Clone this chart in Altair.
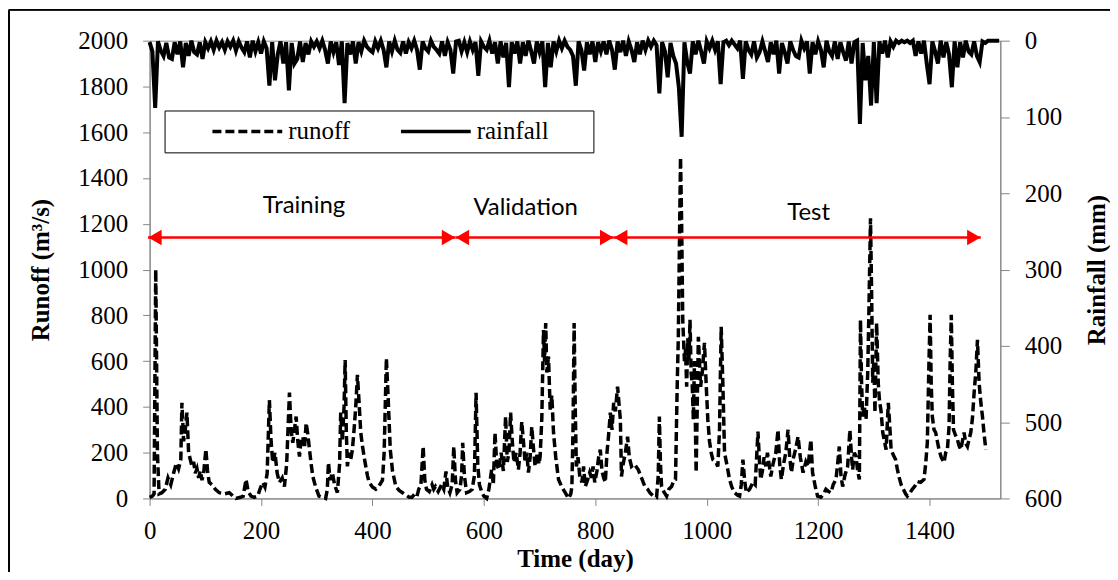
import altair as alt
import pandas as pd

# ---------------- data ----------------
runoff_day = [
    0, 5, 8, 11, 14, 17, 22, 28, 33, 38, 43, 48, 52, 56, 58,
    61, 64, 67, 70, 73, 76, 79, 82, 85, 88, 91, 94, 97, 101, 104,
    107, 112, 118, 125, 135, 143, 150, 155, 163, 168, 173, 177, 182, 188, 194,
    198, 203, 207, 211, 215, 218, 221, 225, 229, 233, 238, 242, 246, 251, 254,
    257, 260, 263, 266, 269, 272, 275, 278, 281, 284, 287, 290, 293, 298, 304,
    310, 316, 319, 321, 324, 328, 332, 337, 341, 343, 346, 349, 351, 353, 355,
    358, 361, 364, 367, 370, 373, 376, 379, 382, 385, 388, 391, 394, 400, 406,
    412, 418, 421, 425, 428, 432, 436, 442, 448, 454, 460, 466, 471, 476, 480,
    483, 487, 491, 494, 497, 502, 507, 510, 513, 518, 524, 528, 532, 535, 539,
    543, 546, 549, 552, 557, 560, 562, 565, 569, 574, 579, 583, 586, 589, 592,
    596, 600, 605, 609, 614, 617, 620, 623, 627, 631, 635, 639, 642, 645, 648,
    651, 654, 658, 662, 665, 668, 671, 674, 677, 680, 683, 686, 689, 692, 696,
    699, 701, 704, 707, 709, 711, 713, 716, 719, 722, 725, 729, 734, 740, 746,
    752, 756, 758, 760, 762, 764, 766, 769, 772, 776, 779, 782, 786, 790, 793,
    796, 799, 803, 806, 809, 812, 815, 818, 821, 824, 827, 830, 833, 836, 840,
    843, 845, 847, 850, 854, 858, 861, 865, 870, 877, 883, 889, 894, 898, 904,
    910, 913, 915, 917, 919, 923, 928, 932, 937, 941, 944, 947, 949, 951, 953,
    955, 957, 960, 962, 964, 966, 968, 970, 972, 974, 976, 978, 981, 983, 985,
    987, 989, 992, 996, 999, 1002, 1005, 1008, 1011, 1016, 1020, 1023, 1026, 1029, 1032,
    1036, 1041, 1045, 1050, 1055, 1059, 1062, 1065, 1068, 1071, 1077, 1083, 1087, 1092, 1095,
    1097, 1100, 1103, 1106, 1109, 1112, 1115, 1119, 1124, 1128, 1131, 1134, 1138, 1142, 1146,
    1149, 1152, 1156, 1160, 1164, 1168, 1173, 1178, 1182, 1187, 1190, 1195, 1199, 1205, 1210,
    1214, 1219, 1223, 1227, 1232, 1235, 1238, 1241, 1244, 1248, 1253, 1257, 1260, 1262, 1265,
    1268, 1271, 1274, 1276, 1278, 1280, 1283, 1286, 1289, 1291, 1294, 1296, 1298, 1300, 1302,
    1305, 1308, 1310, 1313, 1316, 1319, 1322, 1326, 1329, 1331, 1335, 1339, 1342, 1345, 1349,
    1353, 1357, 1360, 1365, 1369, 1374, 1378, 1384, 1390, 1393, 1396, 1399, 1401, 1403, 1405,
    1408, 1411, 1414, 1417, 1421, 1426, 1429, 1432, 1435, 1437, 1439, 1441, 1443, 1446, 1450,
    1453, 1456, 1459, 1462, 1465, 1468, 1471, 1474, 1477, 1480, 1483, 1486, 1489, 1492, 1495,
    1498, 1501,
]
runoff_val = [
    5, 10, 20, 1000, 200, 20, 25, 40, 90, 60, 110, 155, 130, 170, 418,
    250, 300, 375, 200, 170, 140, 160, 110, 130, 90, 120, 80, 110, 215, 120,
    70, 60, 40, 25, 20, 25, 10, 0, 5, 10, 83, 30, 10, 5, 10,
    40, 70, 50, 110, 430, 250, 157, 200, 110, 70, 90, 52, 150, 462, 300,
    243, 300, 358, 250, 183, 260, 270, 220, 330, 280, 213, 150, 96, 50, 10,
    5, 0, 40, 157, 80, 113, 60, 25, 150, 375, 250, 400, 605, 300, 140,
    200, 170, 213, 300, 400, 540, 420, 288, 230, 183, 140, 100, 70, 50, 40,
    55, 80, 200, 613, 450, 213, 120, 52, 35, 25, 15, 5, 5, 20, 10,
    40, 60, 227, 80, 40, 30, 60, 40, 52, 30, 60, 40, 118, 50, 25,
    60, 227, 80, 25, 40, 100, 243, 100, 25, 30, 40, 100, 462, 150, 60,
    30, 10, 0, 40, 126, 60, 288, 150, 126, 200, 120, 358, 160, 200, 375,
    250, 157, 200, 126, 200, 335, 250, 157, 200, 113, 180, 313, 220, 140, 200,
    150, 183, 350, 736, 600, 766, 550, 620, 388, 450, 288, 180, 83, 50, 25,
    0, 20, 52, 300, 766, 400, 140, 180, 100, 70, 140, 52, 80, 113, 90,
    140, 70, 120, 180, 213, 120, 90, 70, 200, 280, 375, 300, 418, 380, 488,
    400, 344, 96, 150, 200, 270, 180, 140, 150, 126, 90, 52, 40, 25, 10,
    5, 100, 358, 150, 52, 30, 10, 40, 52, 80, 83, 488, 700, 1100, 1490,
    1200, 780, 600, 650, 488, 700, 600, 780, 550, 500, 344, 600, 113, 400, 706,
    600, 488, 550, 680, 500, 344, 250, 200, 170, 160, 140, 300, 750, 500, 200,
    150, 83, 50, 25, 15, 10, 60, 170, 80, 25, 40, 70, 60, 292, 150,
    83, 120, 180, 140, 200, 150, 96, 150, 200, 300, 150, 83, 150, 200, 300,
    180, 113, 180, 220, 270, 180, 113, 160, 140, 257, 113, 50, 10, 5, 20,
    40, 30, 25, 60, 83, 150, 227, 100, 52, 100, 140, 300, 180, 126, 200,
    183, 120, 83, 780, 500, 358, 400, 344, 548, 800, 1224, 900, 505, 600, 375,
    766, 500, 431, 380, 288, 250, 213, 418, 300, 213, 190, 170, 130, 96, 60,
    40, 20, 10, 25, 40, 55, 74, 70, 83, 150, 243, 600, 802, 500, 358,
    300, 288, 250, 213, 180, 157, 200, 213, 313, 600, 802, 500, 300, 280, 257,
    230, 213, 250, 288, 240, 227, 260, 288, 350, 462, 550, 693, 505, 420, 358,
    280, 213,
]

# daily rainfall sampled every 5 days (day 0, 5, 10, ...)
rain_step = 5
rain_val = [
    2, 14, 88, 1, 13, 20, 3, 22, 24, 2, 18, 1, 35, 3, 20, 0, 15, 18, 2, 24,
    2, 10, 1, 12, 0, 9, 2, 12, 1, 8, 0, 13, 1, 9, 15, 1, 22, 0, 14, 2,
    17, 1, 10, 59, 2, 52, 18, 1, 30, 2, 65, 3, 30, 24, 1, 28, 3, 18, 1, 8,
    1, 10, 0, 12, 30, 1, 15, 2, 32, 1, 82, 3, 18, 1, 30, 2, 14, 0, 8, 12,
    15, 1, 10, 0, 12, 35, 1, 14, 0, 12, 16, 1, 17, 2, 10, 0, 12, 38, 1, 10,
    14, 0, 8, 12, 17, 1, 20, 2, 12, 43, 1, 0, 14, 2, 15, 1, 12, 2, 46, 1,
    8, 12, 0, 17, 2, 30, 1, 22, 3, 61, 2, 17, 1, 30, 2, 20, 0, 14, 30, 1,
    15, 1, 61, 3, 35, 1, 14, 0, 10, 0, 8, 12, 20, 59, 1, 12, 39, 2, 18, 1,
    28, 2, 14, 1, 18, 0, 12, 38, 1, 15, 0, 20, 1, 12, 28, 2, 18, 0, 12, 0,
    8, 0, 6, 69, 2, 14, 48, 3, 20, 30, 61, 126, 2, 28, 43, 1, 18, 0, 14, 30,
    1, 10, 0, 12, 1, 57, 2, 0, 6, 0, 5, 10, 0, 50, 1, 12, 18, 1, 22, 15,
    1, 14, 28, 2, 18, 0, 43, 3, 15, 30, 1, 12, 20, 22, 0, 10, 1, 43, 2, 18,
    1, 12, 35, 0, 14, 20, 1, 24, 2, 15, 26, 1, 30, 2, 0, 109, 3, 52, 20, 85,
    2, 82, 1, 17, 0, 22, 1, 8, 0, 3, 0, 2, 0, 3, 0, 20, 1, 17, 0, 30,
    57, 1, 14, 30, 0, 22, 2, 18, 61, 1, 35, 2, 22, 0, 14, 18, 1, 20, 28, 1,
    3, 0, 0, 0, 0, 0,
]

# period arrows and labels
period_names = ["Training", "Validation", "Test"]
period_start = [-3, 549, 833]
period_end = [549, 833, 1492]
arrow_level = [1140, 1140, 1140]
label_day = [277, 675, 1183]
label_level = [1277, 1268, 1246]

x_ticks = [0, 200, 400, 600, 800, 1000, 1200, 1400]
runoff_ticks = [0, 200, 400, 600, 800, 1000, 1200, 1400, 1600, 1800, 2000]
rain_ticks = [0, 100, 200, 300, 400, 500, 600]

assert len(runoff_day) == len(runoff_val)

runoff_df = pd.DataFrame({"day": runoff_day, "value": runoff_val, "series": "runoff"})
rain_df = pd.DataFrame({
    "day": [i * rain_step for i in range(len(rain_val))],
    "value": rain_val,
    "series": "rainfall",
})
period_df = pd.DataFrame({
    "name": period_names, "start": period_start, "end": period_end,
    "level": arrow_level, "lday": label_day, "llevel": label_level,
})

# ---------------- styling ----------------
SERIF = "Liberation Serif"
GRAY = "#868686"
FS = 25
BLANK = "\u2800"

xscale = alt.Scale(domain=[0, 1527], nice=False, zero=False)
yscale = alt.Scale(domain=[0, 2000], nice=False)
dash_scale = alt.Scale(domain=["runoff", "rainfall"], range=[[9, 4], [1, 0]])

x_axis = alt.Axis(
    values=x_ticks, title="Time (day)", grid=False, format="d",
    labelFont=SERIF, labelFontSize=FS, labelColor="black", labelPadding=13,
    labelFlush=False,
    titleFont=SERIF, titleFontSize=FS, titleFontWeight="bold", titleColor="black",
    titlePadding=3,
    domainColor=GRAY, tickColor=GRAY, tickSize=7,
)
y_axis = alt.Axis(
    orient="left", values=runoff_ticks, title="Runoff (m³/s)", grid=False, format="d",
    labelFont=SERIF, labelFontSize=FS, labelColor="black", labelPadding=15,
    titleFont=SERIF, titleFontSize=FS, titleFontWeight="bold", titleColor="black",
    titlePadding=24,
    domainColor=GRAY, tickColor=GRAY, tickSize=7,
)
rain_axis = alt.Axis(
    orient="right", values=rain_ticks, title="Rainfall (mm)", grid=False, format="d",
    labelFont=SERIF, labelFontSize=FS, labelColor="black", labelPadding=15,
    titleFont=SERIF, titleFontSize=FS, titleFontWeight="bold", titleColor="black",
    titlePadding=48, titleAngle=270,
    domainColor=GRAY, tickColor=GRAY, tickSize=9,
)

legend = alt.Legend(
    orient="none", legendX=15, legendY=70, direction="horizontal", title=None,
    symbolType="stroke", symbolSize=4900, symbolStrokeWidth=3.5,
    symbolStrokeColor="black", clipHeight=26,
    labelFont=SERIF, labelFontSize=FS, labelColor="black", labelOffset=4,
    strokeColor="black", fillColor="white", padding=8, columnPadding=10,
    symbolOffset=38,
    labelExpr="datum.label == 'rainfall' ? datum.label + '" + BLANK * 2 + "' : datum.label",
)

runoff_line = alt.Chart(runoff_df).mark_line(color="black", strokeWidth=3.5).encode(
    x=alt.X("day:Q", scale=xscale, axis=x_axis),
    y=alt.Y("value:Q", scale=yscale, axis=y_axis),
    strokeDash=alt.StrokeDash("series:N", scale=dash_scale, legend=legend),
    order="day:Q",
)

arrow_line = alt.Chart(period_df).mark_rule(color="#FF0000", strokeWidth=2.5).encode(
    x=alt.X("start:Q", scale=xscale, axis=x_axis),
    x2="end:Q",
    y=alt.Y("level:Q", scale=yscale, axis=y_axis),
)
head_right = alt.Chart(period_df).mark_point(
    shape="triangle-right", filled=True, color="#FF0000", size=240, opacity=1, xOffset=-7
).encode(
    x=alt.X("end:Q", scale=xscale, axis=x_axis),
    y=alt.Y("level:Q", scale=yscale, axis=y_axis),
)
head_left = alt.Chart(period_df).mark_point(
    shape="triangle-left", filled=True, color="#FF0000", size=240, opacity=1, xOffset=7
).encode(
    x=alt.X("start:Q", scale=xscale, axis=x_axis),
    y=alt.Y("level:Q", scale=yscale, axis=y_axis),
)
period_text = alt.Chart(period_df).mark_text(
    font="Lato", fontSize=24, color="black", baseline="middle", align="center"
).encode(
    x=alt.X("lday:Q", scale=xscale, axis=x_axis),
    y=alt.Y("llevel:Q", scale=yscale, axis=y_axis),
    text="name:N",
)

frame_left = alt.Chart(period_df).mark_rule(color="black", strokeWidth=1.5).encode(
    x=alt.value(-141), y=alt.value(-31), y2=alt.value(560)
)
frame_top = alt.Chart(period_df).mark_rule(color="black", strokeWidth=1.5).encode(
    x=alt.value(-141), x2=alt.value(965), y=alt.value(-31)
)

runoff_layer = alt.layer(runoff_line, arrow_line, head_right, head_left, period_text)

rain_line = alt.Chart(rain_df).mark_line(color="black", strokeWidth=4).encode(
    x=alt.X("day:Q", scale=xscale, axis=x_axis),
    y=alt.Y("value:Q", scale=alt.Scale(domain=[0, 600], reverse=True, nice=False),
            axis=rain_axis),
    strokeDash=alt.StrokeDash("series:N", scale=dash_scale, legend=legend),
    order="day:Q",
)

chart = alt.layer(runoff_layer, rain_line, frame_left, frame_top).resolve_scale(
    y="independent"
).properties(
    width=853, height=459,
    autosize=alt.AutoSizeParams(type="none"),
    padding={"left": 142, "top": 32, "right": 110, "bottom": 73},
    background="white",
).configure_view(stroke=GRAY, strokeWidth=1)

chart.save("out.html", embed_options={"renderer": "svg", "actions": False})
